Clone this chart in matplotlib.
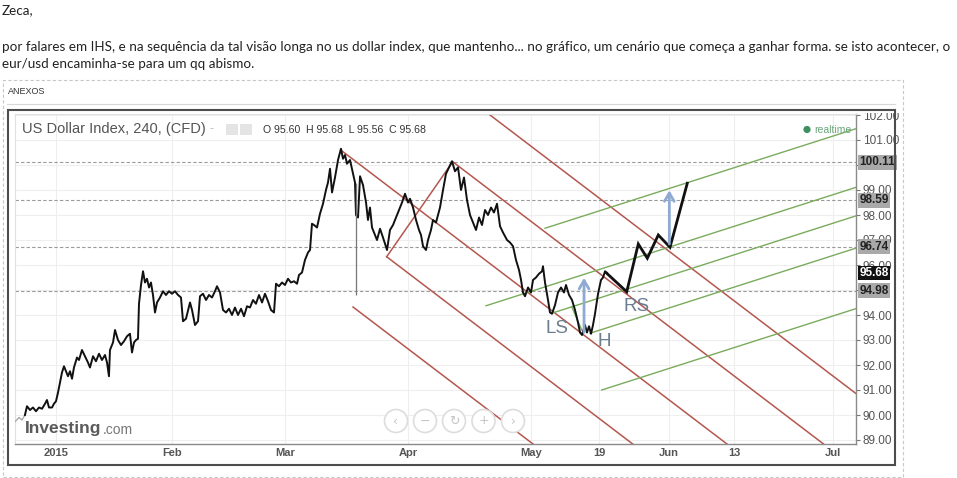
import matplotlib
matplotlib.use("Agg")
import matplotlib.pyplot as plt
from matplotlib.patches import Rectangle, Circle
from matplotlib.lines import Line2D
from matplotlib import font_manager

W, H = 957, 478

# ---- data (x = trading sessions from 1 Jan 2015) ----
month_ticks = [0, 20.8, 40.9, 62.9, 84.8, 97.0, 109.5, 121.1, 138.8]
month_labels = ["2015", "Feb", "Mar", "Apr", "May", "19", "Jun", "13", "Jul"]
price_ticks = list(range(89, 103))
hidden_ticks = [95, 100]  # fully covered by the price boxes

session = [-7.32, -6.61, -6.07, -5.54, -5.18, -4.64, -4.11, -3.57, -3.04, -2.5,
           -1.96, -1.61, -1.25, -0.71, -0.36, 0, 0.36, 0.71, 1.07, 1.43,
           1.79, 2.14, 2.5, 2.86, 3.21, 3.75, 4.11, 4.64, 5.18, 5.71,
           6.07, 6.61, 7.14, 7.68, 8.21, 8.75, 9.11, 9.46, 9.64, 10.18,
           10.54, 11.07, 11.61, 12.14, 12.68, 13.21, 13.57, 13.93, 14.29, 14.64,
           14.82, 15.18, 15.54, 15.89, 16.25, 16.61, 16.96, 17.32, 17.68, 18.04,
           18.57, 19.11, 19.64, 20.18, 20.71, 21.25, 21.79, 22.32, 22.68, 23.21,
           23.93, 24.29, 24.82, 25.36, 25.71, 26.25, 26.79, 27.32, 27.86, 28.39,
           28.75, 29.29, 29.82, 30.36, 30.89, 31.43, 31.96, 32.5, 33.04, 33.57,
           34.11, 34.64, 35.18, 35.71, 36.25, 36.79, 37.32, 37.86, 38.39, 38.93,
           39.29, 39.82, 40.36, 40.89, 41.43, 41.96, 42.5, 43.04, 43.39, 43.93,
           44.46, 45.0, 45.36, 45.71, 46.07, 46.61, 47.14, 47.68, 48.21, 48.57,
           48.93, 49.29, 49.82, 50.36, 50.89, 51.25, 51.61, 51.96, 52.5, 53.04,
           53.39, 53.57, 53.93, 54.29, 54.82, 55.36, 55.71, 56.07, 56.43, 56.96,
           57.32, 57.86, 58.39, 59.11, 59.64, 60.18, 60.71, 61.25, 61.79, 62.32,
           62.86, 63.21, 63.75, 64.29, 64.82, 65.18, 65.54, 66.07, 66.43, 66.96,
           67.32, 67.86, 68.57, 69.11, 69.64, 70.18, 70.71, 71.25, 71.79, 72.32,
           72.86, 73.39, 73.93, 74.46, 75.0, 75.54, 76.07, 76.61, 77.14, 77.68,
           78.21, 78.75, 79.29, 79.82, 80.54, 81.07, 81.61, 82.14, 82.68, 83.04,
           83.39, 83.75, 84.29, 84.82, 85.18, 85.71, 86.25, 86.79, 86.96, 87.32,
           87.86, 88.21, 88.57, 89.11, 89.64, 90.18, 90.71, 91.07, 91.61, 92.14,
           92.68, 93.21, 93.57, 93.93, 94.46, 94.82, 95.18, 95.54, 95.89, 96.25,
           96.79, 97.32, 97.68, 98.04, 98.39]
close = [89.73, 89.9, 89.8, 90.0, 90.35, 90.2, 90.3, 90.15, 90.3, 90.25,
         90.45, 90.6, 90.3, 90.3, 90.45, 90.55, 90.9, 91.3, 91.7, 91.95,
         91.75, 91.55, 91.75, 91.45, 91.9, 92.3, 92.2, 92.6, 92.35, 92.1,
         91.9, 92.35, 92.15, 92.45, 92.2, 92.4, 92.1, 91.55, 92.6, 92.9,
         93.4, 93.0, 92.8, 92.95, 93.15, 93.25, 92.5, 92.9, 93.0, 93.05,
         94.45, 95.2, 95.75, 95.3, 95.45, 95.1, 95.3, 94.8, 94.1, 94.5,
         94.7, 94.95, 94.8, 94.95, 94.85, 94.95, 94.8, 94.7, 93.75, 93.85,
         94.5, 94.2, 93.6, 93.75, 94.75, 94.85, 94.6, 94.8, 94.7, 94.95,
         95.15, 94.9, 94.2, 94.1, 94.25, 94.0, 94.3, 94.0, 94.25, 93.95,
         94.35, 94.3, 94.6, 94.45, 94.8, 94.5, 94.85, 94.55, 94.2, 94.1,
         95.25, 95.15, 95.3, 95.2, 95.45, 95.3, 95.35, 95.25, 95.6, 95.7,
         96.2, 96.5, 96.6, 97.65, 97.6, 97.5, 98.05, 98.45, 99.0, 99.3,
         99.85, 98.9, 99.5, 100.2, 100.65, 100.25, 100.4, 100.05, 100.2, 99.65,
         99.3, 98.0, 97.9, 99.55, 99.2, 98.5, 97.8, 98.3, 97.5, 97.2,
         97.0, 97.45, 97.1, 96.6, 97.4, 97.6, 97.9, 98.2, 98.5, 98.85,
         98.5, 98.65, 98.3, 97.8, 97.4, 97.2, 96.75, 96.6, 97.0, 97.4,
         97.8, 97.7, 98.3, 99.0, 99.65, 99.9, 100.15, 99.75, 99.9, 99.0,
         99.5, 98.6, 98.0, 97.7, 97.4, 97.9, 97.6, 98.2, 98.0, 98.3,
         98.1, 98.45, 97.55, 97.3, 97.0, 96.9, 96.75, 96.2, 95.8, 95.4,
         94.9, 94.75, 95.1, 94.9, 95.4, 95.5, 95.65, 95.75, 95.95, 95.3,
         94.6, 94.1, 94.05, 94.4, 94.9, 95.1, 94.9, 95.2, 94.8, 94.6,
         94.2, 93.7, 93.3, 93.2, 93.6, 93.3, 93.55, 93.25, 93.6, 94.05,
         94.85, 95.4, 95.5, 95.75, 95.68]

# long lower wick after the March top
wick_x, wick_low, wick_high = 53.57, 94.8, 99.3

levels = [100.11, 98.59, 96.74, 94.98]
last_price = 95.68

# red falling lines (start point, common slope per session)
red_starts = [(50.84, 100.6), (53.04, 94.32), (59.05, 96.33), (70.84, 100.13), (77.5, 102.0)]
red_slope = -0.1705
handle_x = [59.05, 70.84]
handle_y = [96.33, 100.13]

# green rising lines
green_starts = [(87.32, 97.47), (76.79, 94.37), (88.52, 94.07), (95.36, 93.27), (97.45, 91.0)]
green_slope = 0.0717
ls_h_x = [92.09, 93.88]
ls_h_y = [94.33, 93.4]

# hand-drawn projection
proj_x = [98.34, 101.91, 103.98, 105.59, 107.55, 109.64, 112.73]
proj_y = [95.67, 94.93, 96.84, 96.27, 97.2, 96.71, 99.27]

arrows = [(94.29, 93.2, 95.6), (109.52, 96.73, 99.1)]
pattern_labels = ["LS", "H", "RS"]
pattern_x = [89.4, 97.86, 103.75]
pattern_y = [93.47, 92.94, 94.33]

post_lines = [
    "Zeca,",
    "por falares em IHS, e na sequência da tal visão longa no us dollar index, que mantenho... no gráfico, um cenário que começa a ganhar forma. se isto acontecer, o",
    "eur/usd encaminha-se para um qq abismo.",
]

RED = "#b4574f"
GREEN = "#7aab5c"
BLUE = "#8eaad2"

names = {f.name for f in font_manager.fontManager.ttflist}
narrow = "Liberation Sans Narrow" if "Liberation Sans Narrow" in names else "Lato"
plt.rcParams["font.family"] = ["Liberation Sans", "DejaVu Sans"]

fig = plt.figure(figsize=(W / 100, H / 100), dpi=100)
fig.patch.set_facecolor("white")
px = fig.dpi_scale_trans


def P(x, y):
    return (x / 100, (H - y) / 100)


# ---- forum text ----
post_texts = []
for txt, yy in zip(post_lines, [10, 47, 64.5]):
    post_texts.append(fig.text(*P(2, yy), txt, transform=px, family=[narrow, "DejaVu Sans"],
                               fontsize=9.5, color="#222222", va="center", ha="left"))
r = fig.canvas.get_renderer()
w = post_texts[1].get_window_extent(renderer=r).width
fs = 9.5 * 945 / w
for t in post_texts:
    t.set_fontsize(fs)

# attachment frame
fig.patches.append(Rectangle(P(3, 477), 900 / 100, 397 / 100, transform=px, fill=False,
                             ec="#c8c8c8", lw=0.8, ls=(0, (3, 2))))
fig.text(*P(8, 92), "ANEXOS", transform=px, fontsize=6.5, color="#333333", va="center")
fig.lines.append(Line2D([7 / 100, 895 / 100], [(H - 104) / 100] * 2, transform=px,
                        color="#d8d8d8", lw=0.8))

# ---- chart ----
ax = fig.add_axes([15 / W, 1 - 444 / H, (855.7 - 15) / W, (444 - 114) / H])
ax.set_xlim(-7.32, 142.8)
ax.set_ylim(88.84, 102.04)
ax.set_xticks(month_ticks, month_labels)
ax.set_yticks(price_ticks, ["" if v in hidden_ticks else f"{v:.2f}" for v in price_ticks])
ax.yaxis.tick_right()
ax.tick_params(axis="x", length=0, pad=3, labelsize=8, labelcolor="#555555")
ax.tick_params(axis="y", length=3, width=0.8, color="#777777", pad=2,
               labelsize=8.5, labelcolor="#555555")
for lab in ax.get_xticklabels():
    lab.set_fontweight("bold")
ax.grid(color="#eeeeee", lw=0.8)
ax.set_axisbelow(True)
for s in ["top", "left"]:
    ax.spines[s].set_color("#e0e0e0")
    ax.spines[s].set_linewidth(0.8)
for s in ["right", "bottom"]:
    ax.spines[s].set_color("#8a8a8a")
    ax.spines[s].set_linewidth(1.0)

for v in levels:
    ax.axhline(v, color="#9a9a9a", lw=0.8, ls=(0, (3, 2)), zorder=1)

# price
ax.plot(session[:4], close[:4], color="#aaaaaa", lw=1.0, zorder=3)
ax.plot(session[3:], close[3:], color="#111111", lw=1.4, zorder=3)
ax.vlines(wick_x, wick_low, wick_high, color="#777777", lw=0.9, zorder=3)

x_end = 150
for x0, y0 in red_starts:
    ax.plot([x0, x_end], [y0, y0 + red_slope * (x_end - x0)], color=RED, lw=1.1, zorder=2)
ax.plot(handle_x, handle_y, color=RED, lw=1.1, zorder=2)
for x0, y0 in green_starts:
    ax.plot([x0, 142.8], [y0, y0 + green_slope * (142.8 - x0)], color=GREEN, lw=1.0, zorder=2)
ax.plot(ls_h_x, ls_h_y, color=GREEN, lw=1.0, zorder=2)

ax.plot(proj_x, proj_y, color="#111111", lw=2.0, zorder=4, solid_joinstyle="miter")
for xa, lo, hi in arrows:
    ax.annotate("", xy=(xa, hi), xytext=(xa, lo),
                arrowprops=dict(arrowstyle="->,head_length=0.6,head_width=0.35",
                                color=BLUE, lw=2.0), zorder=4)
for lab, xl, yl in zip(pattern_labels, pattern_x, pattern_y):
    ax.text(xl, yl, lab, fontsize=13.5, color="#6c7d90", ha="center", va="center", zorder=5)

# price boxes on the scale (drawn over the tick labels they hide)
for v in levels:
    ax.annotate(f"{v:.2f}", xy=(1, v), xycoords=("axes fraction", "data"),
                xytext=(4, 0), textcoords="offset pixels", fontsize=8.5, fontweight="bold",
                color="#222222", va="center", ha="left", annotation_clip=False, zorder=6,
                bbox=dict(boxstyle="square,pad=0.12", fc="#a9a9a9", ec="none"))
ax.annotate(f"{last_price:.2f}", xy=(1, last_price), xycoords=("axes fraction", "data"),
            xytext=(4, 0), textcoords="offset pixels", fontsize=8.5, fontweight="bold",
            color="white", va="center", ha="left", annotation_clip=False, zorder=6,
            bbox=dict(boxstyle="square,pad=0.12", fc="#111111", ec="none"))

# header inside the chart
fig.text(*P(22, 129), "US Dollar Index, 240, (CFD)", transform=px, fontsize=10.5,
         color="#555555", va="center")
fig.text(*P(210, 129), "-", transform=px, fontsize=9, color="#bbbbbb", va="center")
for xx in [226, 240]:
    fig.patches.append(Rectangle(P(xx, 135), 12 / 100, 11 / 100, transform=px,
                                 fc="#e4e4e4", ec="none"))
fig.text(*P(263, 130), "O 95.60  H 95.68  L 95.56  C 95.68", transform=px, fontsize=7.6,
         color="#333333", va="center")
fig.patches.append(Circle(P(807, 129.5), 3.6 / 100, transform=px, fc="#3f8f5f", ec="none"))
fig.text(*P(814, 130), "realtime", transform=px, fontsize=7.5, color="#6aa67a", va="center")

# logo
fig.text(*P(25, 428), "Investing", transform=px, fontsize=12.5, fontweight="bold",
         color="#5a5a5a", va="center")
fig.text(*P(103, 430), ".com", transform=px, fontsize=10, color="#777777", va="center")

# navigation buttons
for xx, g in zip([396, 425, 454, 483.5, 513], ["‹", "−", "↻", "+", "›"]):
    fig.patches.append(Circle(P(xx, 421), 11.5 / 100, transform=px, fc="white",
                              ec="#dddddd", lw=1.2))
    fig.text(*P(xx, 421), g, transform=px, fontsize=9, color="#c4c4c4",
             ha="center", va="center", family="DejaVu Sans")

# chart frame
fig.patches.append(Rectangle(P(856.5, 113), 45 / 100, 8 / 100, transform=px,
                             fc="white", ec="none", zorder=1))
fig.patches.append(Rectangle(P(8.3, 465), 886.7 / 100, 355 / 100, transform=px,
                             fill=False, ec="#4d4d4d", lw=1.5, zorder=2))

fig.savefig("out.png", dpi=100, facecolor="white")
